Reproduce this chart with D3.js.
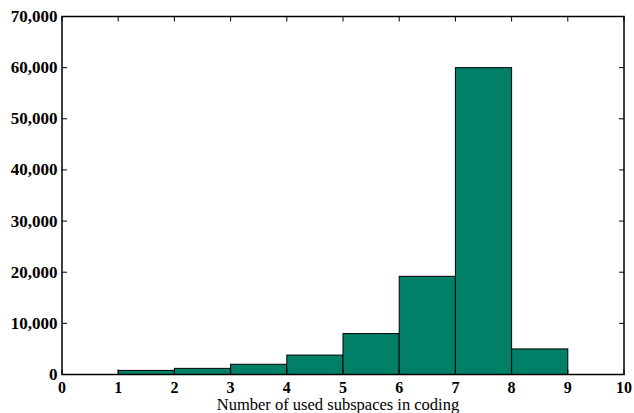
<!DOCTYPE html>
<html><head><meta charset="UTF-8">
<script src="https://d3js.org/d3.v7.min.js"></script>
<style>
  body { margin: 0; background: #fff; }
</style>
</head>
<body>
<svg id="chart" width="634" height="413"></svg>
<script>
// bin edges (left side of each bar) and counts
var binStart = [0, 1, 2, 3, 4, 5, 6, 7, 8, 9];
var counts   = [0, 800, 1200, 2000, 3800, 8000, 19200, 60000, 5000, 0];
var xTicks = [0, 1, 2, 3, 4, 5, 6, 7, 8, 9, 10];
var yTicks = [0, 10000, 20000, 30000, 40000, 50000, 60000, 70000];
var xTitle = "Number of used subspaces in coding";

var svg = d3.select("#chart");
// plot box
var pL = 62, pR = 624, pT = 16.5, pB = 374.5;

var x = d3.scaleLinear().domain([0, 10]).range([pL, pR]);
var y = d3.scaleLinear().domain([0, 70000]).range([pB, pT]);
var fmt = d3.format(",");
var serif = "'Liberation Serif', 'Times New Roman', serif";

// bars
svg.selectAll("rect.bar")
  .data(counts)
  .enter().append("rect")
  .attr("class", "bar")
  .attr("x", function(d, i) { return x(binStart[i]); })
  .attr("y", function(d) { return y(d); })
  .attr("width", function(d, i) { return x(binStart[i] + 1) - x(binStart[i]); })
  .attr("height", function(d) { return y(0) - y(d); })
  .attr("fill", "#008066")
  .attr("stroke", "#000")
  .attr("stroke-width", 1);

// ticks inside, on all four sides
var tl = 5;
function tickLines(cls, data, x1, x2, y1, y2) {
  svg.selectAll("line." + cls).data(data).enter().append("line")
    .attr("class", cls)
    .attr("x1", x1).attr("x2", x2).attr("y1", y1).attr("y2", y2)
    .attr("stroke", "#000").attr("stroke-width", 1);
}
tickLines("xb", xTicks, d => x(d), d => x(d), pB, pB - tl);
tickLines("xt", xTicks, d => x(d), d => x(d), pT, pT + tl);
tickLines("yl", yTicks, pL, pL + tl, d => y(d), d => y(d));
tickLines("yr", yTicks, pR, pR - tl, d => y(d), d => y(d));

// frame
svg.append("rect")
  .attr("x", pL).attr("y", pT)
  .attr("width", pR - pL).attr("height", pB - pT)
  .attr("fill", "none").attr("stroke", "#000").attr("stroke-width", 1.5);

// tick labels
svg.selectAll("text.xl").data(xTicks).enter().append("text")
  .attr("class", "xl")
  .attr("x", d => x(d)).attr("y", 393)
  .attr("text-anchor", "middle")
  .style("font-family", serif)
  .style("font-weight", "bold").style("font-size", "16px")
  .text(d => d);
svg.selectAll("text.yl").data(yTicks).enter().append("text")
  .attr("class", "yl")
  .attr("x", pL - 4.5).attr("y", d => y(d) + 5.5)
  .attr("text-anchor", "end")
  .style("font-family", serif)
  .style("font-weight", "bold").style("font-size", "17px")
  .text(d => fmt(d));

// axis title
svg.append("text")
  .attr("x", 338).attr("y", 410)
  .attr("text-anchor", "middle")
  .style("font-family", serif)
  .style("font-size", "16.5px")
  .text(xTitle);
</script>
</body></html>
